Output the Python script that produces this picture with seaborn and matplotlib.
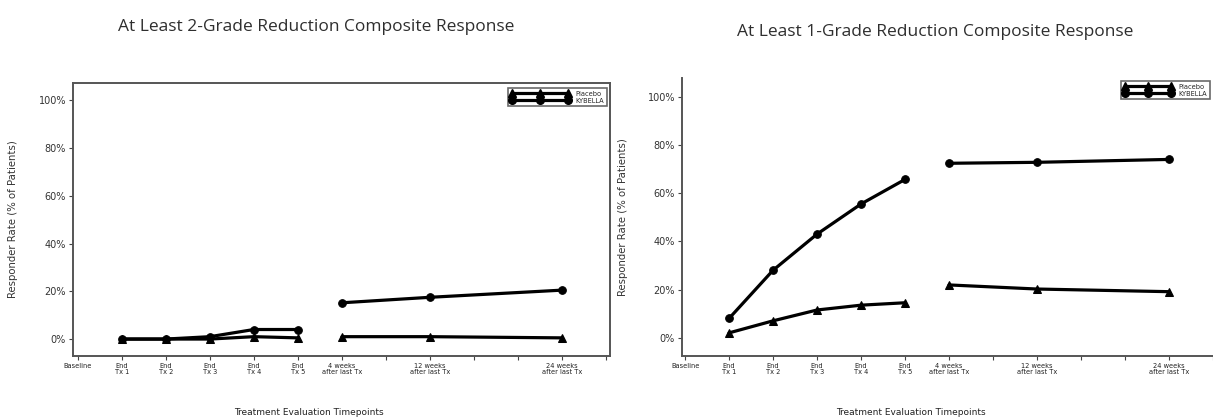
import numpy as np
import pandas as pd
import matplotlib
matplotlib.use("Agg")
import matplotlib.pyplot as plt
import seaborn as sns

# ---- data ----
tick_labels = ["Baseline", "End\nTx 1", "End\nTx 2", "End\nTx 3", "End\nTx 4", "End\nTx 5",
               "4 weeks\nafter last Tx", "", "12 weeks\nafter last Tx", "", "", "24 weeks\nafter last Tx", ""]
tick_positions = list(range(13))

treat_x = [1, 2, 3, 4, 5]
follow_x = [6, 8, 11]

# At least 2-grade reduction
g2_placebo_treat = [0.0, 0.0, 0.0, 1.0, 0.5]
g2_kybella_treat = [0.0, 0.0, 1.0, 4.0, 4.0]
g2_placebo_follow = [1.0, 1.0, 0.5]
g2_kybella_follow = [15.2, 17.5, 20.5]

# At least 1-grade reduction
g1_placebo_treat = [2.0, 7.0, 11.5, 13.5, 14.5]
g1_kybella_treat = [8.0, 28.0, 43.0, 55.5, 65.7]
g1_placebo_follow = [21.9, 20.2, 19.1]
g1_kybella_follow = [72.4, 72.8, 74.0]

groups = ["Placebo", "KYBELLA"]


def build(pt, kt, pf, kf):
    rows = []
    for x, v in zip(treat_x, pt):
        rows.append((x, v, "Placebo", "treat"))
    for x, v in zip(treat_x, kt):
        rows.append((x, v, "KYBELLA", "treat"))
    for x, v in zip(follow_x, pf):
        rows.append((x, v, "Placebo", "follow"))
    for x, v in zip(follow_x, kf):
        rows.append((x, v, "KYBELLA", "follow"))
    return pd.DataFrame(rows, columns=["x", "rate", "group", "phase"])


df2 = build(g2_placebo_treat, g2_kybella_treat, g2_placebo_follow, g2_kybella_follow)
df1 = build(g1_placebo_treat, g1_kybella_treat, g1_placebo_follow, g1_kybella_follow)

sns.set_theme(style="white")
plt.rcParams["font.family"] = ["DejaVu Sans"]

fig = plt.figure(figsize=(12.13, 4.17), dpi=100)
ax1 = fig.add_axes([73 / 1213, 1 - 356 / 417, (610 - 73) / 1213, (356 - 83) / 417])
ax2 = fig.add_axes([682 / 1213, 1 - 356 / 417, (1213 - 682) / 1213, (356 - 78) / 417])

palette = {"Placebo": "black", "KYBELLA": "black"}
markers = {"Placebo": "^", "KYBELLA": "o"}


def draw(ax, df, xlim, ylim, box, leg_anchor, hlen):
    sns.lineplot(data=df, x="x", y="rate", hue="group", style="group", units="phase",
                 estimator=None, hue_order=groups, style_order=groups, palette=palette,
                 markers=markers, dashes=False, linewidth=2.3, markersize=5.5,
                 markeredgecolor="black", ax=ax, legend=False)
    ax.set_xlim(*xlim)
    ax.set_ylim(*ylim)
    ax.set_xticks(tick_positions)
    ax.set_xticklabels(tick_labels, fontsize=4.8, linespacing=1.0, color="#222222")
    ax.set_yticks([0, 20, 40, 60, 80, 100])
    ax.set_yticklabels(["0%", "20%", "40%", "60%", "80%", "100%"], fontsize=7, color="#333333")
    ax.tick_params(axis="both", which="both", direction="out", length=3, width=0.8,
                   color="#444444", bottom=True, left=True, pad=2)
    ax.set_xlabel("Treatment Evaluation Timepoints", fontsize=6.5, color="#222222")
    ax.set_ylabel("Responder Rate (% of Patients)", fontsize=7.3, color="#333333")
    for name, sp in ax.spines.items():
        sp.set_color("#555555")
        sp.set_linewidth(1.4)
    if not box:
        ax.spines["top"].set_visible(False)
        ax.spines["right"].set_visible(False)
    handles = [plt.Line2D([], [], color="black", lw=2.3, marker=markers[g], markersize=5.5)
               for g in groups]
    leg = ax.legend(handles, groups, loc="upper right", bbox_to_anchor=leg_anchor,
                    fontsize=4.8, frameon=True, fancybox=False, edgecolor="#444444",
                    handlelength=hlen, numpoints=3, labelspacing=0.15, borderpad=0.4,
                    handletextpad=0.8, borderaxespad=0)
    leg.get_frame().set_linewidth(1.2)
    ax.grid(False)


draw(ax1, df2, (-0.11, 12.09), (-7.1, 107.3), True, ((607 - 73) / 537, (356 - 88) / 273), 9)
draw(ax2, df1, (-0.07, 11.81), (-7.6, 107.8), False, ((1210 - 682) / 531, (356 - 81) / 278), 7.5)

ax1.xaxis.set_label_coords((309 - 73) / 537, -0.19)
ax2.xaxis.set_label_coords((911 - 682) / 531, -0.187)
ax1.yaxis.set_label_coords(-(73 - 18) / 537, 0.5)
ax2.yaxis.set_label_coords(-(682 - 628) / 531, 0.5)

fig.text(316 / 1213, 1 - 27 / 417, "At Least 2-Grade Reduction Composite Response",
         ha="center", va="center", fontsize=12.5, color="#2e2e2e", family="Open Sans")
fig.text(935 / 1213, 1 - 32 / 417, "At Least 1-Grade Reduction Composite Response",
         ha="center", va="center", fontsize=12.5, color="#2e2e2e", family="Open Sans")

fig.savefig("out.png", dpi=100, facecolor="white")
